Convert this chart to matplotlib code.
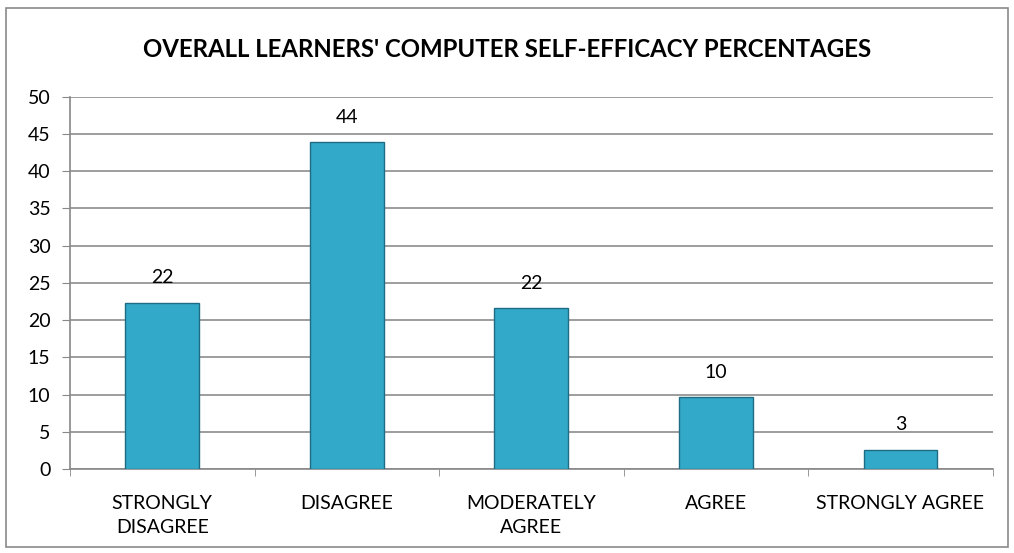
import matplotlib.pyplot as plt
import numpy as np
from matplotlib.patches import Rectangle

categories = ["STRONGLY\nDISAGREE", "DISAGREE", "MODERATELY\nAGREE", "AGREE", "STRONGLY AGREE"]
values = [22.35, 43.9, 21.6, 9.6, 2.6]
labels = ["22", "44", "22", "10", "3"]

plt.rcParams['font.family'] = ['Lato', 'DejaVu Sans']

fig = plt.figure(figsize=(10.14, 5.53), dpi=100)
ax = fig.add_axes([0.069, 0.152, 0.91, 0.673])

x = np.arange(len(values))
bars = ax.bar(x, values, width=0.4, color='#33a9ca', edgecolor='#1d6c82', linewidth=1.0, zorder=3)

for b, lab in zip(bars, labels):
    ax.annotate(lab, (b.get_x() + b.get_width() / 2, b.get_height()),
                xytext=(0, 12), textcoords='offset points',
                ha='center', va='bottom', fontsize=14, color='black')

ax.set_xlim(-0.5, len(values) - 0.5)
ax.set_ylim(0, 50)
ax.set_yticks(np.arange(0, 51, 5))
ax.set_xticks(x)
ax.set_xticklabels(categories, fontsize=14, linespacing=1.45, va='top')
ax.set_xticks(np.arange(-0.5, len(values)), minor=True)
ax.tick_params(axis='x', which='major', length=0, pad=19)
ax.tick_params(axis='x', which='minor', length=5, color='#888888', direction='out')
ax.tick_params(axis='y', labelsize=14, length=6, color='#888888', pad=8)

ax.grid(axis='y', color='#8c8c8c', linewidth=1.2, zorder=0)
for s in ['top', 'right']:
    ax.spines[s].set_visible(False)
for s in ['left', 'bottom']:
    ax.spines[s].set_color('#888888')
    ax.spines[s].set_linewidth(1.2)

fig.text(0.5, 0.91, "OVERALL LEARNERS' COMPUTER SELF-EFFICACY PERCENTAGES",
         ha='center', va='center', fontsize=17.3, fontweight='bold')

fig.patches.append(Rectangle((0.006, 0.01), 0.988, 0.975, transform=fig.transFigure,
                             fill=False, edgecolor='#8a8a8a', linewidth=1.2))

fig.savefig("out.png", dpi=100)
